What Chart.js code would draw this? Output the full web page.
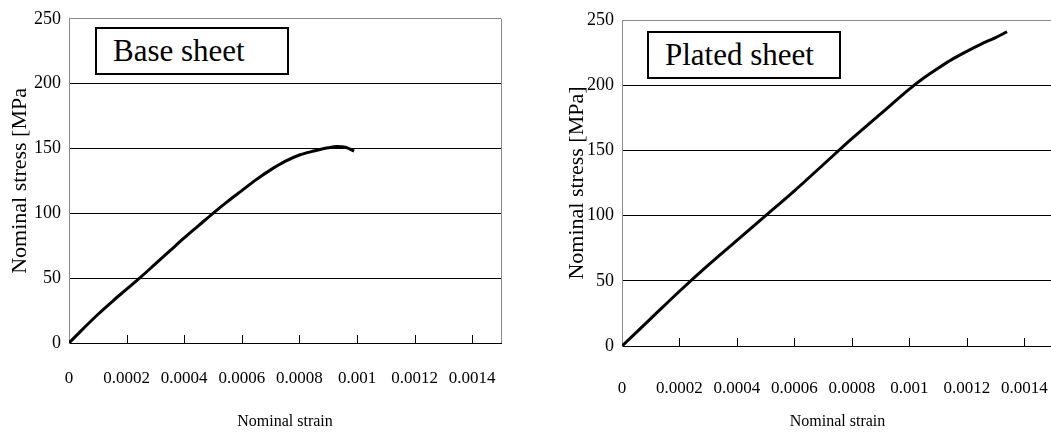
<!DOCTYPE html>
<html>
<head>
<meta charset="utf-8">
<script src="https://cdn.jsdelivr.net/npm/chart.js@4.4.1/dist/chart.umd.min.js"></script>
<style>
  html, body { margin: 0; padding: 0; background: #fff; width: 1051px; height: 432px; overflow: hidden; }
  #wrap { position: relative; width: 1051px; height: 432px; overflow: hidden; }
  canvas { position: absolute; top: 0; }
  #cBase { left: 0; }
  #cPlated { left: 530px; }
  .tag {
    position: absolute; box-sizing: border-box; border: 2px solid #000; background: #fff;
    font-family: "Liberation Serif", "DejaVu Serif", serif; color: #000;
    display: flex; align-items: center;
  }
  #tagBase { left: 95px; top: 27px; width: 194px; height: 48px; font-size: 31px; padding-left: 16px; }
  #tagPlated { left: 647px; top: 31px; width: 194px; height: 48px; font-size: 31px; padding-left: 16px; }
</style>
</head>
<body>
<div id="wrap">
  <canvas id="cBase" width="525" height="432"></canvas>
  <canvas id="cPlated" width="540" height="432"></canvas>
  <div class="tag" id="tagBase">Base sheet</div>
  <div class="tag" id="tagPlated">Plated sheet</div>
</div>
<script>
// données
const baseStrain = [0, 0.00004, 0.0001, 0.00015, 0.0002, 0.00025, 0.0003, 0.00035, 0.0004, 0.00045, 0.0005,
  0.00055, 0.0006, 0.00065, 0.0007, 0.00075, 0.0008, 0.00085, 0.0009, 0.00093, 0.00096, 0.00099];
const baseStress = [0, 9, 22, 32, 41.5, 51, 61, 71, 81, 90.5, 100,
  109, 117.5, 126, 133.5, 140, 145, 148, 150.5, 151.5, 151, 148];

const platedStrain = [0, 0.0001, 0.0002, 0.0003, 0.0004, 0.0005, 0.0006, 0.0007, 0.0008, 0.0009, 0.001,
  0.00105, 0.0011, 0.00115, 0.0012, 0.00125, 0.0013, 0.00134];
const platedStress = [0, 21, 42, 62, 81, 100, 119, 139, 159, 178, 197,
  205.5, 213, 220, 226, 231.5, 236.5, 241];

const xTicks = [0, 0.0002, 0.0004, 0.0006, 0.0008, 0.001, 0.0012, 0.0014];
const xTickLabels = ["0", "0.0002", "0.0004", "0.0006", "0.0008", "0.001", "0.0012", "0.0014"];
const yTicks = [0, 50, 100, 150, 200, 250];

const SERIF = "'Liberation Serif', 'DejaVu Serif', serif";

// petits traits vers l'intérieur + bord droit du cadre
const frame = {
  id: 'frame',
  beforeDatasetsDraw(chart) {
    const ctx = chart.ctx, a = chart.chartArea, xs = chart.scales.x;
    ctx.save();
    ctx.strokeStyle = '#000';
    ctx.lineWidth = 1;
    xTicks.forEach(v => {
      if (v === 0) return;
      const px = Math.round(xs.getPixelForValue(v)) + 0.5;
      ctx.beginPath(); ctx.moveTo(px, a.bottom); ctx.lineTo(px, a.bottom - 8); ctx.stroke();
    });
    ctx.strokeStyle = '#8c8c8c';
    ctx.beginPath(); ctx.moveTo(Math.round(a.right) + 0.5, a.top); ctx.lineTo(Math.round(a.right) + 0.5, a.bottom); ctx.stroke();
    ctx.restore();
  }
};

function makeChart(id, strain, stress, opt) {
  return new Chart(document.getElementById(id), {
    type: 'line',
    data: {
      datasets: [{
        data: strain.map((s, i) => ({ x: s, y: stress[i] })),
        borderColor: '#000',
        borderWidth: 3,
        pointRadius: 0,
        cubicInterpolationMode: 'monotone',
        fill: false
      }]
    },
    options: {
      responsive: false,
      animation: false,
      layout: { padding: { top: opt.top, right: opt.right, left: 0, bottom: 0 } },
      plugins: { legend: { display: false }, tooltip: { enabled: false } },
      scales: {
        x: {
          type: 'linear', min: 0, max: 0.0015,
          afterBuildTicks: s => { s.ticks = xTicks.map(v => ({ value: v })); },
          afterFit: s => { s.height = opt.xh; s.paddingLeft = 0; s.paddingRight = 0; },
          grid: { drawOnChartArea: false, drawTicks: false },
          border: { color: '#000', width: 1 },
          ticks: {
            padding: opt.xpad, color: '#000', maxRotation: 0, autoSkip: false,
            font: { family: SERIF, size: 17 },
            callback: (v, i) => xTickLabels[i]
          },
          title: {
            display: true, text: 'Nominal strain', color: '#000',
            font: { family: SERIF, size: 16 }, padding: { top: 0, bottom: 1 }
          }
        },
        y: {
          min: 0, max: 250,
          afterBuildTicks: s => { s.ticks = yTicks.map(v => ({ value: v })); },
          afterFit: s => { s.width = opt.yw; },
          grid: {
            drawTicks: false,
            color: c => c.tick.value === 250 ? '#8c8c8c' : '#000',
            lineWidth: 1
          },
          border: { color: '#8c8c8c', width: 1 },
          ticks: { padding: 8, color: '#000', font: { family: SERIF, size: 18 } },
          title: {
            display: true, text: opt.ytitle, color: '#000',
            font: { family: SERIF, size: 22 }, padding: { top: opt.ytpad, bottom: 0 }
          }
        }
      }
    },
    plugins: [frame]
  });
}

makeChart('cBase', baseStrain, baseStress,
  { top: 17, right: 24, xh: 89, yw: 69, xpad: 25, ytitle: 'Nominal stress [MPa', ytpad: 7 });
makeChart('cPlated', platedStrain, platedStress,
  { top: 20, right: 17, xh: 86, yw: 92, xpad: 32, ytitle: 'Nominal stress [MPa]', ytpad: 34 });
</script>
</body>
</html>
